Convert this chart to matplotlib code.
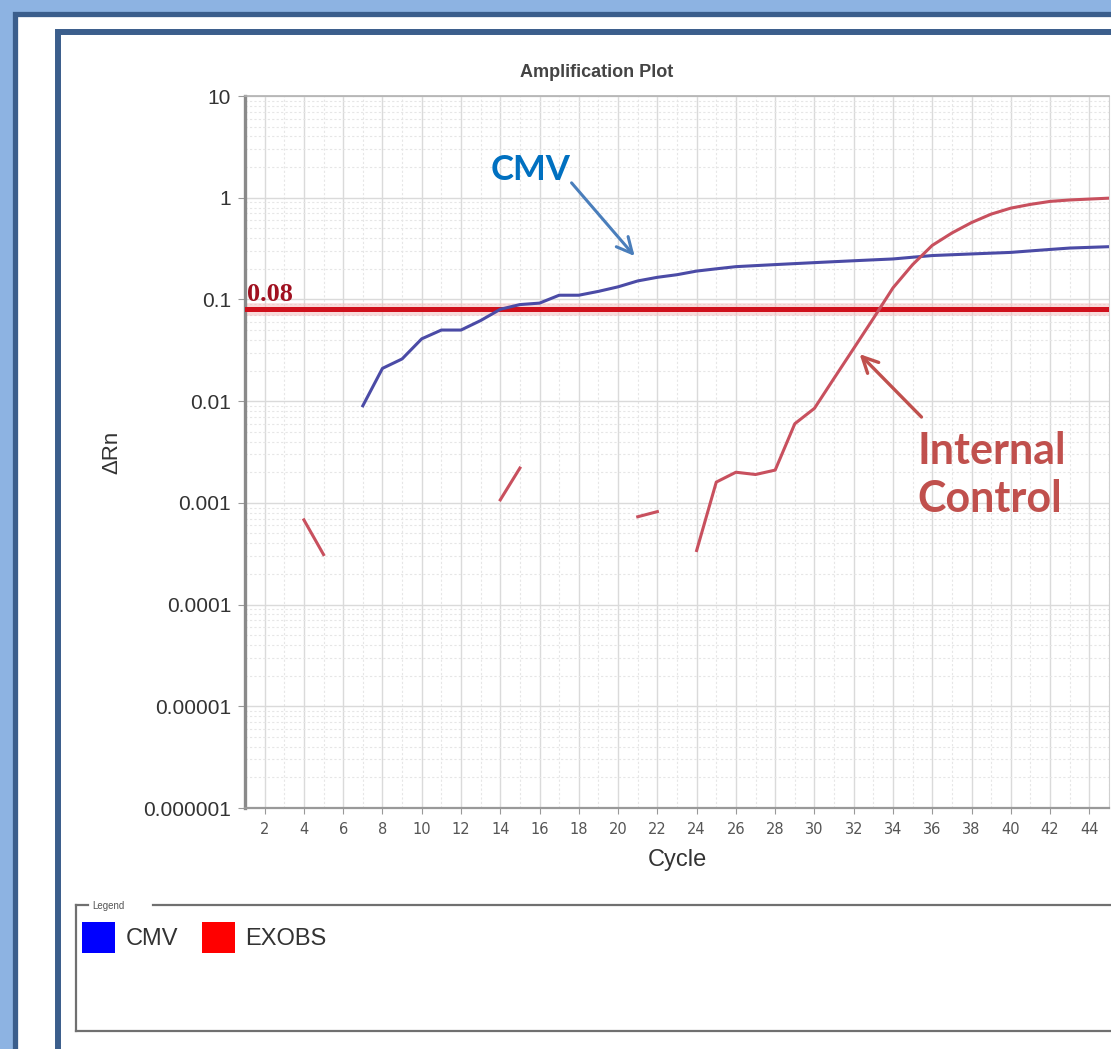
import numpy as np
import matplotlib.pyplot as plt
from matplotlib.patches import Rectangle, Patch
from matplotlib.lines import Line2D
from matplotlib.transforms import Affine2D
from matplotlib.ticker import FixedLocator, LogLocator, NullFormatter, MultipleLocator

W, H = 1111, 1049
nan = np.nan

cycles = list(range(1, 46))

# CMV curve (starts at cycle 7)
cmv = [nan, nan, nan, nan, nan, nan,
       0.009, 0.021, 0.026, 0.041, 0.05, 0.05, 0.062, 0.08, 0.089,
       0.092, 0.11, 0.11, 0.12, 0.133, 0.152, 0.165, 0.175, 0.19,
       0.2, 0.21, 0.215, 0.22, 0.225, 0.23, 0.235, 0.24, 0.245,
       0.25, 0.26, 0.27, 0.275, 0.28, 0.285, 0.29, 0.3, 0.31,
       0.32, 0.325, 0.33]

# EXOBS / internal control, gaps where the signal is not positive
exobs = [nan, nan, nan, 0.00068, 0.00031, nan, nan, nan, nan,
         nan, nan, nan, nan, 0.00107, 0.0022, nan, nan, nan,
         nan, nan, 0.00073, 0.00082, nan, 0.00034, 0.0016, 0.002,
         0.0019, 0.0021, 0.006, 0.0085, 0.0168, 0.033, 0.065, 0.13,
         0.22, 0.34, 0.45, 0.57, 0.69, 0.79, 0.86, 0.92, 0.95,
         0.97, 0.99]

threshold = 0.08
series_names = ["CMV", "EXOBS"]
legend_colors = ["#0000ff", "#ff0000"]

y_ticks = [10, 1, 0.1, 0.01, 0.001, 0.0001, 0.00001, 0.000001]
y_tick_labels = ["10", "1", "0.1", "0.01", "0.001", "0.0001", "0.00001", "0.000001"]
x_ticks = list(range(2, 45, 2))

fig = plt.figure(figsize=(W / 100, H / 100), dpi=100, facecolor="#8db3e2")

# pixel transform (origin top-left)
px = Affine2D().scale(1 / W, -1 / H).translate(0, 1) + fig.transFigure

# slide frames (behind the axes)
fig.patches.append(Rectangle((14.5, 13.5), 1300, 1200, transform=px, zorder=-2,
                             facecolor="white", edgecolor="#3b5e8c", lw=3.8))
fig.patches.append(Rectangle((58, 32), 1300, 1200, transform=px, zorder=-1,
                             facecolor="white", edgecolor="#3b5e8c", lw=4.3))

ax = fig.add_axes([245 / W, 1 - 808 / H, 864 / W, 712 / H])
ax.set_facecolor("white")
ax.set_yscale("log")
ax.set_xlim(1, 45)
ax.set_ylim(1e-6, 10)

ax.yaxis.set_major_locator(FixedLocator(y_ticks))
ax.set_yticklabels(y_tick_labels)
ax.yaxis.set_minor_locator(LogLocator(base=10, subs=np.arange(2, 10)))
ax.yaxis.set_minor_formatter(NullFormatter())
ax.set_xticks(x_ticks)
ax.xaxis.set_minor_locator(MultipleLocator(1))

ax.grid(which="major", color="#dadada", lw=1.0)
ax.grid(which="minor", color="#e6e6e6", lw=0.8, ls=(0, (2, 2)))
ax.set_axisbelow(True)

for lab in ax.get_yticklabels():
    lab.set_family("Liberation Sans")
ax.tick_params(axis="y", which="major", labelsize=15, length=5, pad=5,
               color="#999999", labelcolor="#333333")
ax.tick_params(axis="x", which="major", labelsize=10.5, length=4, pad=6,
               color="#999999", labelcolor="#555555")
ax.tick_params(which="minor", length=0)

ax.spines["left"].set_color("#8a8a8a")
ax.spines["left"].set_linewidth(2.4)
ax.spines["bottom"].set_color("#999999")
ax.spines["bottom"].set_linewidth(1.6)
ax.spines["top"].set_color("#b0b0b0")
ax.spines["top"].set_linewidth(1.2)
ax.spines["right"].set_color("#d0d0d0")

# threshold
ax.axhline(threshold, color="#f4b8b8", lw=9, alpha=0.5, zorder=2)
ax.axhline(threshold, color="#d0101c", lw=3.6, zorder=3)
ax.text(1.1, threshold * 1.08, "0.08", color="#a01020", fontsize=19,
        family="Liberation Serif", fontweight="bold", va="bottom", ha="left",
        zorder=4)

ax.plot(cycles, cmv, color="#4b4ba6", lw=2.2, zorder=5)
ax.plot(cycles, exobs, color="#c8505e", lw=2.2, zorder=5)

fig.text(597 / W, 1 - 73 / H, "Amplification Plot", fontsize=13,
         fontweight="bold", color="#444444", family="Liberation Sans",
         ha="center", va="center")
ax.set_xlabel("Cycle", fontsize=17, color="#333333", family="Liberation Sans")
ax.xaxis.set_label_coords(0.5, -0.057)
ax.set_ylabel("\u0394Rn", fontsize=16, color="#333333", family="Liberation Sans")
ax.yaxis.set_label_coords(-0.142, 0.5)

# callouts
ax.annotate("", xy=(20.84, 0.267), xytext=(17.63, 1.40),
            arrowprops=dict(arrowstyle="->", color="#4a7ebb", lw=2.2,
                            mutation_scale=28, shrinkA=0, shrinkB=0))
ax.text(15.54, 1.87, "CMV", color="#0070c0", fontsize=25, family="Lato",
        fontweight="bold", ha="center", va="center")

ax.annotate("", xy=(32.3, 0.029), xytext=(35.45, 0.00698),
            arrowprops=dict(arrowstyle="->", color="#c0504d", lw=2.4,
                            mutation_scale=28, shrinkA=0, shrinkB=0))
ax.text(35.25, 0.00188, "Internal\nControl", color="#c0504d", fontsize=31,
        family="Lato", fontweight="bold", ha="left", va="center",
        linespacing=1.22)

# legend panel
box_kw = dict(transform=px, color="#707070", lw=1.6)
fig.add_artist(Line2D([76, 76], [905, 1031], **box_kw))
fig.add_artist(Line2D([76, 1200], [1031, 1031], **box_kw))
fig.add_artist(Line2D([76, 88], [905, 905], **box_kw))
fig.add_artist(Line2D([153, 1200], [905, 905], **box_kw))
fig.text(92 / W, 1 - 906 / H, "Legend", fontsize=7, color="#555555",
         va="center", ha="left", family="Liberation Sans")

handles = [Patch(facecolor=c, edgecolor="none") for c in legend_colors]
fig.legend(handles, series_names, loc="upper left",
           bbox_to_anchor=(82 / W, 1 - 922 / H), frameon=False, ncol=2,
           handlelength=1.4, handleheight=1.65,
           handletextpad=0.45, columnspacing=1.0, borderpad=0,
           borderaxespad=0, prop={"family": "Liberation Sans", "size": 17},
           labelcolor="#333333")

fig.savefig("out.png", dpi=100, facecolor=fig.get_facecolor())
